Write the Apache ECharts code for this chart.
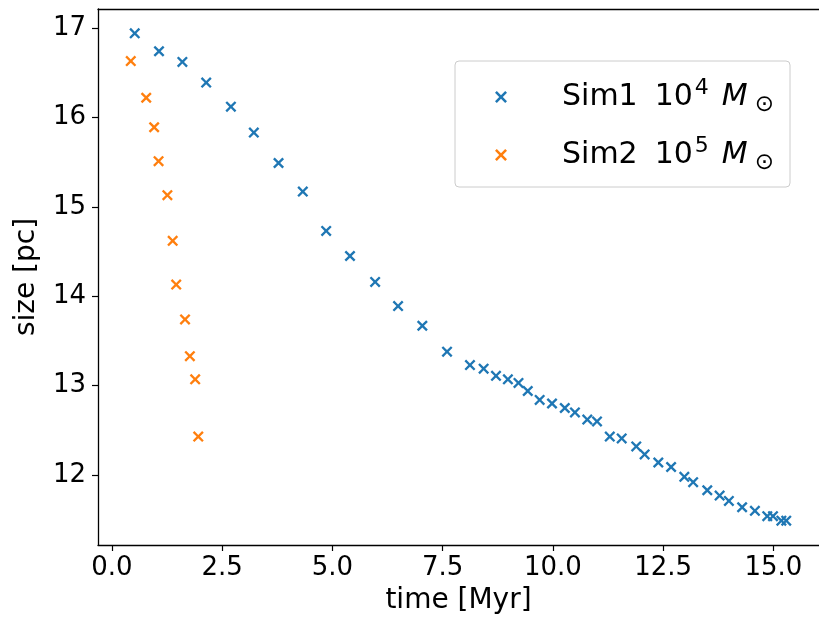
<!DOCTYPE html>
<html>
<head>
<meta charset="utf-8">
<script src="https://cdn.jsdelivr.net/npm/echarts@6/dist/echarts.min.js"></script>
<style>
  html, body { margin: 0; padding: 0; background: #fff; }
  #chart { width: 819px; height: 620px; }
</style>
</head>
<body>
<div id="chart"></div>
<script>
// Cluster size versus time for two simulations
const simOneTime = [0.52, 1.07, 1.60, 2.14, 2.70, 3.22, 3.78, 4.33, 4.86, 5.40, 5.97, 6.49, 7.04, 7.60,
  8.12, 8.43, 8.71, 8.98, 9.22, 9.43, 9.70, 9.98, 10.27, 10.50, 10.78, 11.00, 11.29, 11.56, 11.89,
  12.08, 12.39, 12.68, 12.98, 13.18, 13.50, 13.78, 13.99, 14.29, 14.58, 14.86, 14.99, 15.18, 15.29];
const simOneSize = [16.94, 16.74, 16.62, 16.39, 16.12, 15.83, 15.49, 15.17, 14.73, 14.45, 14.16, 13.89, 13.67, 13.38,
  13.23, 13.19, 13.11, 13.07, 13.03, 12.94, 12.84, 12.80, 12.75, 12.70, 12.62, 12.60, 12.43, 12.41, 12.32,
  12.23, 12.14, 12.09, 11.98, 11.92, 11.83, 11.77, 11.71, 11.64, 11.60, 11.54, 11.54, 11.49, 11.49];

const simTwoTime = [0.43, 0.78, 0.96, 1.06, 1.26, 1.38, 1.46, 1.66, 1.77, 1.89, 1.96];
const simTwoSize = [16.63, 16.22, 15.89, 15.51, 15.13, 14.62, 14.13, 13.74, 13.33, 13.07, 12.43];

const xTicks = [0, 2.5, 5, 7.5, 10, 12.5, 15];
const yTicks = [12, 13, 14, 15, 16, 17];

const seriesNames = ['Sim1', 'Sim2'];
const seriesMassExp = ['4', '5'];
const seriesColors = ['#1f77b4', '#ff7f0e'];

const pair = (xs, ys) => xs.map((x, i) => [x, ys[i]]);

// filled "x" marker
const crossPath = 'path://M1.5,0 L5,3.5 L8.5,0 L10,1.5 L6.5,5 L10,8.5 L8.5,10 L5,6.5 L1.5,10 L0,8.5 L3.5,5 L0,1.5 Z';

const font = 'DejaVu Sans';
const tickFont = 26;
const nameFont = 28;

const chart = echarts.init(document.getElementById('chart'), null, { renderer: 'canvas' });

chart.setOption({
  animation: false,
  backgroundColor: '#fff',
  grid: { left: 98, right: -3, top: 9, bottom: 72, containLabel: false },
  legend: {
    orient: 'vertical',
    left: 455,
    top: 61,
    padding: [16, 16, 12, 40],
    itemGap: 18,
    itemWidth: 12,
    itemHeight: 12,
    backgroundColor: 'rgba(255,255,255,0.8)',
    borderColor: '#cccccc',
    borderWidth: 1,
    borderRadius: 4,
    data: seriesNames.map(n => ({ name: n, icon: crossPath })),
    formatter: function (name) {
      const i = seriesNames.indexOf(name);
      return '{gap|}{t|' + name + '}{sp|}{t|10}{sup|' + seriesMassExp[i] + '}{sp2|}{it|M}{sub|\u2299}';
    },
    textStyle: {
      fontFamily: font,
      color: '#000',
      rich: {
        gap: { width: 50 },
        sp: { width: 17 },
        sp2: { width: 13 },
        t: { fontFamily: font, fontSize: 30, lineHeight: 40, color: '#000' },
        sup: { fontFamily: font, fontSize: 22, lineHeight: 20, verticalAlign: 'top', color: '#000', padding: [0, 0, 0, 2] },
        it: { fontFamily: font, fontSize: 30, fontStyle: 'italic', lineHeight: 40, color: '#000' },
        sub: { fontFamily: font, fontSize: 23, lineHeight: 24, verticalAlign: 'bottom', color: '#000', padding: [0, 0, 0, 7] }
      }
    }
  },
  xAxis: [{
    type: 'value',
    min: -0.313,
    max: 16.033,
    name: 'time [Myr]',
    nameLocation: 'middle',
    nameGap: 42,
    nameTextStyle: { fontFamily: font, fontSize: nameFont, color: '#000' },
    axisLine: { show: true, onZero: false, lineStyle: { color: '#000', width: 1.3 } },
    axisTick: { show: true, length: 6, inside: false, lineStyle: { color: '#000', width: 1.2 }, customValues: xTicks },
    axisLabel: {
      margin: 10, fontFamily: font, fontSize: tickFont, color: '#000',
      customValues: xTicks,
      formatter: v => v.toFixed(1)
    },
    splitLine: { show: false }
  }, {
    type: 'value',
    position: 'top',
    min: -0.313,
    max: 16.033,
    axisLine: { show: true, onZero: false, lineStyle: { color: '#000', width: 1.3 } },
    axisTick: { show: false },
    axisLabel: { show: false },
    splitLine: { show: false }
  }],
  yAxis: {
    type: 'value',
    min: 11.2175,
    max: 17.2125,
    name: 'size [pc]',
    nameLocation: 'middle',
    nameGap: 57,
    nameRotate: 90,
    nameTextStyle: { fontFamily: font, fontSize: nameFont, color: '#000' },
    axisLine: { show: true, onZero: false, lineStyle: { color: '#000', width: 1.3 } },
    axisTick: { show: true, length: 6, lineStyle: { color: '#000', width: 1.2 }, customValues: yTicks },
    axisLabel: {
      margin: 12, fontFamily: font, fontSize: tickFont, color: '#000',
      customValues: yTicks,
      formatter: v => String(v)
    },
    splitLine: { show: false }
  },
  series: [
    {
      name: seriesNames[0],
      type: 'scatter',
      symbol: crossPath,
      symbolSize: 11,
      itemStyle: { color: seriesColors[0], opacity: 1 },
      data: pair(simOneTime, simOneSize)
    },
    {
      name: seriesNames[1],
      type: 'scatter',
      symbol: crossPath,
      symbolSize: 11,
      itemStyle: { color: seriesColors[1], opacity: 1 },
      data: pair(simTwoTime, simTwoSize)
    }
  ]
});
</script>
</body>
</html>
